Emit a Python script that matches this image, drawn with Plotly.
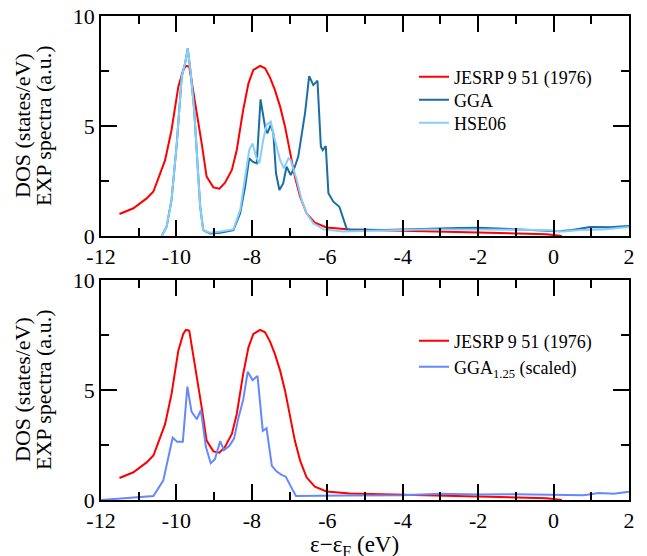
import plotly.graph_objects as go

# ---------------- data ----------------
exp_x = [-11.51, -11.14, -10.79, -10.61, -10.48, -10.30, -10.13, -9.95, -9.82, -9.75, -9.66, -9.60,
         -9.46, -9.33, -9.20, -9.02, -8.86, -8.71, -8.53, -8.40, -8.23, -8.09, -7.96, -7.78, -7.65,
         -7.52, -7.39, -7.25, -7.12, -6.99, -6.86, -6.72, -6.55, -6.33, -6.02, -5.40, -4.5, -3.5,
         -2.5, -1.5, -0.7, -0.2, 0.0, 0.22]
exp_y = [1.00, 1.26, 1.71, 2.02, 2.62, 3.45, 4.82, 6.79, 7.55, 7.73, 7.70, 7.09, 5.73, 4.21, 2.70,
         2.21, 2.15, 2.42, 3.00, 3.91, 5.73, 6.94, 7.55, 7.73, 7.62, 7.21, 6.64, 5.88, 4.97, 3.91,
         2.70, 1.79, 1.03, 0.61, 0.39, 0.30, 0.26, 0.22, 0.20, 0.16, 0.12, 0.08, 0.05, 0.0]

gga_x = [-10.39, -10.26, -10.13, -9.99, -9.86, -9.77, -9.70, -9.62, -9.53, -9.45, -9.37, -9.29,
         -9.11, -8.84, -8.49, -8.31, -8.18, -8.07, -7.98, -7.87, -7.77, -7.65, -7.59, -7.50, -7.43,
         -7.36, -7.27, -7.17, -7.08, -6.97, -6.86, -6.77, -6.68, -6.59, -6.48, -6.37, -6.26, -6.17,
         -6.12, -6.04, -5.97, -5.84, -5.68, -5.48, -4.5, -3.5, -2.5, -2.0, -1.0, 0.15, 0.5, 0.97,
         1.5, 2.0]
gga_y = [0.0, 0.42, 1.64, 4.21, 7.24, 7.85, 8.53, 7.39, 5.73, 3.45, 1.33, 0.27, 0.12, 0.15, 0.27,
         1.03, 2.24, 3.53, 3.38, 3.30, 6.21, 4.97, 4.67, 5.05, 4.67, 2.85, 2.09, 2.39, 3.15, 2.77,
         3.15, 3.61, 4.67, 5.58, 7.27, 6.86, 7.06, 4.06, 3.90, 4.09, 1.94, 1.56, 1.33, 0.30, 0.27,
         0.30, 0.36, 0.38, 0.30, 0.22, 0.27, 0.41, 0.40, 0.45]

hse_x = [-10.39, -10.26, -10.13, -9.99, -9.86, -9.77, -9.70, -9.62, -9.53, -9.45, -9.37, -9.29,
         -9.11, -8.84, -8.49, -8.31, -8.18, -8.07, -7.98, -7.89, -7.80, -7.70, -7.61, -7.50, -7.39,
         -7.25, -7.15, -7.03, -6.97, -6.81, -6.68, -6.55, -6.37, -6.10, -5.59, -4.07, -3.47, -2.0,
         -0.2, 0.25, 0.7, 1.3, 2.0]
hse_y = [0.0, 0.42, 1.64, 4.21, 7.24, 7.85, 8.53, 7.39, 5.73, 3.45, 1.33, 0.27, 0.15, 0.20, 0.30,
         1.18, 2.55, 3.91, 4.21, 3.61, 3.30, 4.36, 5.05, 5.20, 4.36, 3.45, 3.08, 3.53, 3.45, 2.55,
         1.64, 1.03, 0.58, 0.30, 0.20, 0.27, 0.30, 0.30, 0.27, 0.20, 0.27, 0.30, 0.41]

gga125_x = [-12.0, -10.61, -10.35, -10.22, -10.10, -9.98, -9.83, -9.71, -9.60, -9.46, -9.35, -9.22,
            -9.09, -8.98, -8.84, -8.74, -8.60, -8.47, -8.36, -8.23, -8.11, -7.98, -7.85, -7.71,
            -7.61, -7.47, -7.34, -7.21, -7.10, -6.94, -6.83, -5.5, -4.0, -3.0, -2.0, -1.0, 0.0,
            0.8, 1.2, 1.6, 2.0]
gga125_y = [0.0, 0.18, 0.88, 1.97, 2.83, 2.65, 2.65, 5.15, 4.02, 3.67, 4.09, 2.42, 1.67, 1.85,
            2.68, 2.27, 2.45, 2.80, 3.71, 4.55, 5.83, 5.45, 5.64, 3.14, 3.26, 1.55, 1.29, 1.14,
            1.06, 0.53, 0.18, 0.20, 0.22, 0.28, 0.25, 0.26, 0.24, 0.22, 0.32, 0.28, 0.38]

x_tickvals = [-12, -10, -8, -6, -4, -2, 0, 2]
x_ticktext = ["-12", "-10", "-8", "-6", "-4", "-2", "0", "2"]
y_tickvals = [0, 5, 10]
y_ticktext = ["0", "5", "10"]

# ---------------- figure ----------------
W, H = 647, 556
FONT = '"Liberation Serif", "DejaVu Serif", serif'
RED = "#ff0000"
GGA_C = "#1a6ea3"
HSE_C = "#87cefa"
G125_C = "#6688ff"

fig = go.Figure()
fig.add_trace(go.Scatter(x=exp_x, y=exp_y, mode="lines", name="JESRP 9 51 (1976)",
                         line=dict(color=RED, width=2), xaxis="x", yaxis="y", legend="legend"))
fig.add_trace(go.Scatter(x=gga_x, y=gga_y, mode="lines", name="GGA",
                         line=dict(color=GGA_C, width=2), xaxis="x", yaxis="y", legend="legend2"))
fig.add_trace(go.Scatter(x=hse_x, y=hse_y, mode="lines", name="HSE06",
                         line=dict(color=HSE_C, width=2), xaxis="x", yaxis="y", legend="legend3"))
fig.add_trace(go.Scatter(x=exp_x, y=exp_y, mode="lines", name="JESRP 9 51 (1976)",
                         line=dict(color=RED, width=2), xaxis="x2", yaxis="y2", legend="legend4"))
fig.add_trace(go.Scatter(x=gga125_x, y=gga125_y, mode="lines", name="GGA<sub>1.25</sub> (scaled)",
                         line=dict(color=G125_C, width=2), xaxis="x2", yaxis="y2", legend="legend5"))

xdom = [101 / W, 629 / W]
ydom_top = [1 - 236 / H, 1 - 16 / H]
ydom_bot = [1 - 500 / H, 1 - 280 / H]

def xaxis(anchor):
    return dict(domain=xdom, anchor=anchor, range=[-12, 2], tickvals=x_tickvals, ticktext=x_ticktext,
                showline=True, linecolor="black", linewidth=1.5, mirror="ticks",
                ticks="inside", ticklen=16, tickwidth=1.5, tickcolor="black",
                minor=dict(ticks="inside", dtick=1, tick0=0, ticklen=8, tickwidth=1.5, tickcolor="black"),
                showgrid=False, zeroline=False, automargin=False,
                tickfont=dict(family=FONT, size=22, color="black"))

def yaxis(anchor, dom):
    return dict(domain=dom, anchor=anchor, range=[0, 10], tickvals=y_tickvals, ticktext=y_ticktext,
                showline=True, linecolor="black", linewidth=1.5, mirror="ticks",
                ticks="inside", ticklen=16, tickwidth=1.5, tickcolor="black",
                minor=dict(ticks="inside", dtick=2.5, tick0=0, ticklen=8, tickwidth=1.5, tickcolor="black"),
                showgrid=False, zeroline=False, automargin=False,
                tickfont=dict(family=FONT, size=22, color="black"))

def leg(yc):
    return dict(font=dict(family=FONT, size=18, color="black"), bgcolor="rgba(0,0,0,0)",
                itemwidth=30, xanchor="left", yanchor="middle", x=414 / W, y=1 - yc / H)

fig.update_layout(
    width=W, height=H,
    margin=dict(l=0, r=0, t=0, b=0, autoexpand=False),
    paper_bgcolor="white", plot_bgcolor="white",
    font=dict(family=FONT),
    xaxis=xaxis("y"),
    yaxis=yaxis("x", ydom_top),
    xaxis2=xaxis("y2"),
    yaxis2=yaxis("x2", ydom_bot),
    legend=leg(77), legend2=leg(100), legend3=leg(123),
    legend4=leg(341), legend5=leg(367),
    showlegend=True,
)

# x-axis title of the lower panel
fig.add_annotation(text="ε−ε<sub>F</sub> (eV)", xref="paper", yref="paper",
                   x=354 / W, y=1 - 546 / H, xanchor="center", yanchor="middle",
                   showarrow=False, font=dict(family=FONT, size=23, color="black"))

# two-line y-axis titles (one per panel)
for yc in [(16 + 236) / 2, (280 + 500) / 2]:
    for txt, xc in [("DOS (states/eV)", 22), ("EXP spectra (a.u.)", 43)]:
        fig.add_annotation(text=txt, textangle=-90, xref="paper", yref="paper",
                           x=xc / W, y=1 - yc / H, xanchor="center", yanchor="middle",
                           showarrow=False, font=dict(family=FONT, size=22, color="black"))

fig.write_html("out.html")
